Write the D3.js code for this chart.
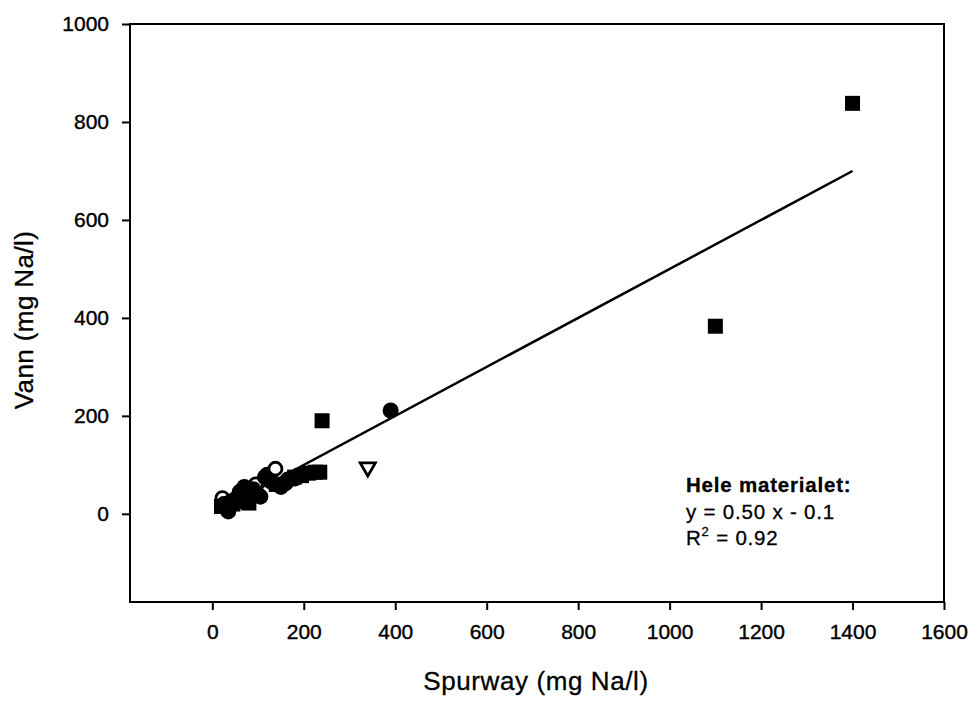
<!DOCTYPE html>
<html>
<head>
<meta charset="utf-8">
<script src="https://cdn.jsdelivr.net/npm/d3@7"></script>
<style>
  body { margin: 0; background: #fff; }
  text { font-family: Arial, "Liberation Sans", sans-serif; fill: #000; }
</style>
</head>
<body>
<div id="chart"></div>
<script>
// Scatter: Vann vs Spurway (mg Na/l) with linear fit
const width = 979, height = 701;
const margin = {top: 24, right: 35, bottom: 99, left: 130};
const tickFontSize = 21;

// data [Spurway, Vann]
const filledCircles = [[25, 20], [35, 5], [50, 30], [60, 45], [70, 55], [85, 40], [90, 50],
  [105, 35], [115, 75], [130, 65], [150, 55], [160, 62], [165, 70], [180, 72], [200, 80], [390, 211]];
const openCircles = [[22, 32], [40, 25], [95, 60], [120, 80], [138, 92], [100, 40]];
const filledSquares = [[20, 15], [45, 20], [60, 25], [80, 22], [75, 35], [140, 60], [180, 75],
  [195, 78], [210, 83], [225, 85], [235, 85], [240, 190], [1100, 383], [1400, 838]];
const openTriangles = [[340, 95]];
const fit = {slope: 0.50, intercept: -0.1, xFrom: 20, xTo: 1400};
const xTicks = [0, 200, 400, 600, 800, 1000, 1200, 1400, 1600];
const yTicks = [0, 200, 400, 600, 800, 1000];

const svg = d3.select("#chart").append("svg")
  .attr("width", width).attr("height", height);

const x = d3.scaleLinear().domain([-180, 1600]).range([margin.left, width - margin.right]);
const y = d3.scaleLinear().domain([-180, 1000]).range([height - margin.bottom, margin.top]);

const xAxis = svg.append("g").attr("transform", `translate(0,${height - margin.bottom})`)
  .call(d3.axisBottom(x).tickValues(xTicks).tickFormat(d3.format("d"))
    .tickSize(8).tickPadding(14).tickSizeOuter(0));
const yAxis = svg.append("g").attr("transform", `translate(${margin.left},0)`)
  .call(d3.axisLeft(y).tickValues(yTicks).tickFormat(d3.format("d"))
    .tickSize(8).tickPadding(12).tickSizeOuter(0));
[xAxis, yAxis].forEach(a => {
  a.select(".domain").remove();
  a.selectAll("line").attr("stroke", "#000").attr("stroke-width", 2);
  a.selectAll("text").attr("font-size", tickFontSize).attr("fill", "#000")
    .attr("stroke", "#000").attr("stroke-width", 0.4)
    .style("font-family", "Arial, 'Liberation Sans', sans-serif");
});
yAxis.selectAll("text").attr("x", -21);

// frame
svg.append("rect").attr("x", margin.left).attr("y", margin.top)
  .attr("width", width - margin.left - margin.right)
  .attr("height", height - margin.top - margin.bottom)
  .attr("fill", "none").attr("stroke", "#000").attr("stroke-width", 2);

// axis titles
svg.append("text").attr("x", 536).attr("y", 690)
  .attr("text-anchor", "middle").attr("font-size", 26).attr("letter-spacing", 0.6)
  .attr("stroke", "#000").attr("stroke-width", 0.3)
  .text("Spurway (mg Na/l)");
svg.append("text").attr("transform", `translate(33,320) rotate(-90)`)
  .attr("text-anchor", "middle").attr("font-size", 26).attr("letter-spacing", 0.4)
  .attr("stroke", "#000").attr("stroke-width", 0.3)
  .text("Vann (mg Na/l)");

// regression line
svg.append("line")
  .attr("x1", x(fit.xFrom)).attr("y1", y(fit.slope * fit.xFrom + fit.intercept))
  .attr("x2", x(fit.xTo)).attr("y2", y(fit.slope * fit.xTo + fit.intercept))
  .attr("stroke", "#000").attr("stroke-width", 2.5);

// markers
const pts = svg.append("g");
pts.selectAll(".oc").data(openCircles).join("circle").attr("class", "oc")
  .attr("cx", d => x(d[0])).attr("cy", d => y(d[1])).attr("r", 6.5)
  .attr("fill", "#fff").attr("stroke", "#000").attr("stroke-width", 2.8);
pts.selectAll(".fc").data(filledCircles).join("circle").attr("class", "fc")
  .attr("cx", d => x(d[0])).attr("cy", d => y(d[1])).attr("r", 8).attr("fill", "#000");
pts.selectAll(".fs").data(filledSquares).join("rect").attr("class", "fs")
  .attr("x", d => x(d[0]) - 7.5).attr("y", d => y(d[1]) - 7.5)
  .attr("width", 15).attr("height", 15).attr("fill", "#000");
const tri = d3.symbol().type(d3.symbolTriangle).size(100);
pts.selectAll(".ot").data(openTriangles).join("path").attr("class", "ot")
  .attr("transform", d => `translate(${x(d[0])},${y(d[1])}) rotate(180)`)
  .attr("d", tri).attr("fill", "#fff").attr("stroke", "#000").attr("stroke-width", 2.8);

// annotation
const note = svg.append("text").attr("x", 686).attr("y", 492)
  .attr("font-size", 20.5).attr("letter-spacing", 0.8)
  .attr("stroke", "#000").attr("stroke-width", 0.3);
note.append("tspan").attr("x", 686).attr("font-weight", "bold").text("Hele materialet:");
note.append("tspan").attr("x", 686).attr("dy", 27).text("y = 0.50 x - 0.1");
note.append("tspan").attr("x", 686).attr("dy", 26).text("R");
note.append("tspan").attr("dy", -9).attr("font-size", 13).text("2");
note.append("tspan").attr("dy", 9).text(" = 0.92");
</script>
</body>
</html>
